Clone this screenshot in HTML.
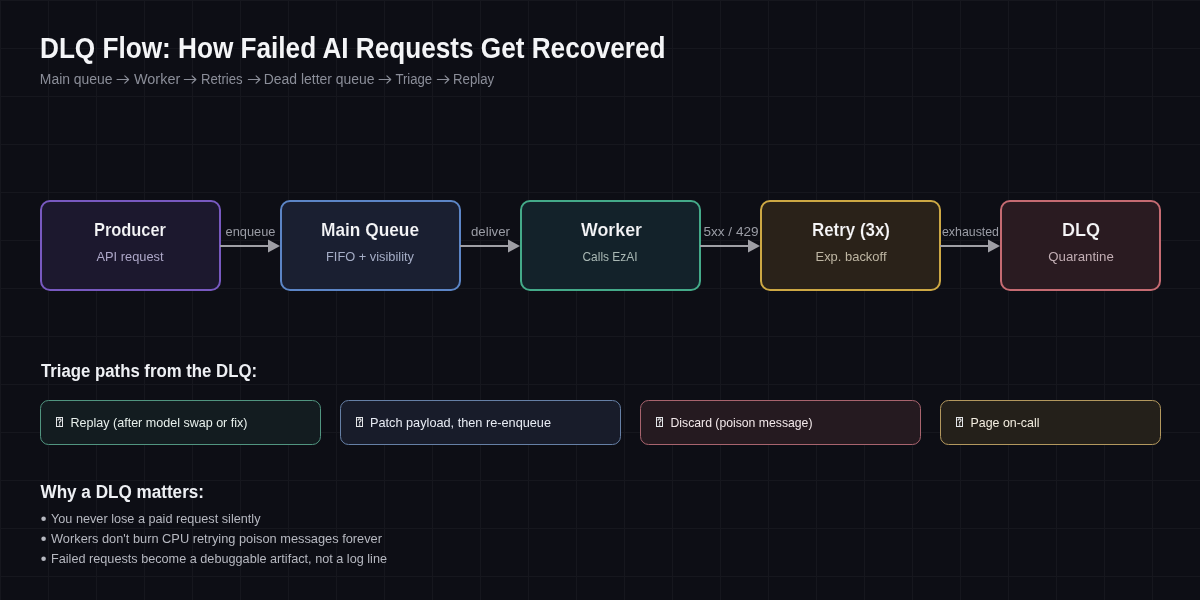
<!DOCTYPE html>
<html><head><meta charset="utf-8">
<style>
html,body{margin:0;padding:0;width:1200px;height:600px;overflow:hidden;background:#0d0e15;}
body{
 background-color:#0d0e15;
 background-image:linear-gradient(to right,#16171e 1px,transparent 1px),linear-gradient(to bottom,#16171e 1px,transparent 1px);
 background-size:48px 48px;
}
svg{position:absolute;left:0;top:0;will-change:transform;}
text{font-family:"Liberation Sans",sans-serif;}
.b{font-weight:bold;}
</style></head>
<body>
<svg width="1200" height="600" viewBox="0 0 1200 600">
 <!-- header -->
 <text class="b" x="40" y="58" font-size="29" fill="#f4f5f7" textLength="625.5" lengthAdjust="spacingAndGlyphs">DLQ Flow: How Failed AI Requests Get Recovered</text>
 <g font-size="14" fill="#8b8e99">
  <text x="39.8" y="84" textLength="72.8" lengthAdjust="spacingAndGlyphs">Main queue</text>
  <text x="134.0" y="84" textLength="46.2" lengthAdjust="spacingAndGlyphs">Worker</text>
  <text x="201.0" y="84" textLength="41.6" lengthAdjust="spacingAndGlyphs">Retries</text>
  <text x="263.8" y="84" textLength="110.8" lengthAdjust="spacingAndGlyphs">Dead letter queue</text>
  <text x="395.4" y="84" textLength="36.8" lengthAdjust="spacingAndGlyphs">Triage</text>
  <text x="453.0" y="84" textLength="41.2" lengthAdjust="spacingAndGlyphs">Replay</text>
 </g>
 <g fill="none" stroke="#8b8e99" stroke-width="1.15" stroke-linecap="round" stroke-linejoin="round">
  <path d="M117.0 79.5H128.6M124.8 75.8L128.6 79.5L124.8 83.2"/>
  <path d="M184.3 79.5H195.9M192.1 75.8L195.9 79.5L192.1 83.2"/>
  <path d="M248.3 79.5H259.9M256.1 75.8L259.9 79.5L256.1 83.2"/>
  <path d="M379.1 79.5H390.7M386.9 75.8L390.7 79.5L386.9 83.2"/>
  <path d="M437.3 79.5H448.9M445.1 75.8L448.9 79.5L445.1 83.2"/>
 </g>

 <!-- flow boxes -->
 <rect x="41" y="201" width="179" height="89" rx="9" fill="#1c182e" stroke="#7859c0" stroke-width="2"/>
 <rect x="281" y="201" width="179" height="89" rx="9" fill="#1a1f31" stroke="#5c85c6" stroke-width="2"/>
 <rect x="521" y="201" width="179" height="89" rx="9" fill="#13222a" stroke="#44aa89" stroke-width="2"/>
 <rect x="761" y="201" width="179" height="89" rx="9" fill="#2a2219" stroke="#cda844" stroke-width="2"/>
 <rect x="1001" y="201" width="159" height="89" rx="9" fill="#2a1b21" stroke="#c56b72" stroke-width="2"/>

 <g class="b" font-size="18" fill="#f5f5f7" text-anchor="middle">
  <text stroke="#1c182e" stroke-width="0.15" x="130" y="236" textLength="72" lengthAdjust="spacingAndGlyphs">Producer</text>
  <text stroke="#1a1f31" stroke-width="0.15" x="370" y="236" textLength="98" lengthAdjust="spacingAndGlyphs">Main Queue</text>
  <text stroke="#13222a" stroke-width="0.15" x="611.5" y="236" textLength="61" lengthAdjust="spacingAndGlyphs">Worker</text>
  <text stroke="#2a2219" stroke-width="0.15" x="851" y="236" textLength="78" lengthAdjust="spacingAndGlyphs">Retry (3x)</text>
  <text stroke="#2a1b21" stroke-width="0.15" x="1081" y="236" textLength="38" lengthAdjust="spacingAndGlyphs">DLQ</text>
 </g>
 <g font-size="13" text-anchor="middle">
  <text fill="#ada7c8" x="130" y="261" textLength="67" lengthAdjust="spacingAndGlyphs">API request</text>
  <text fill="#a5adc6" x="370" y="261" textLength="88" lengthAdjust="spacingAndGlyphs">FIFO + visibility</text>
  <text fill="#a9b8b4" x="610" y="261" textLength="55" lengthAdjust="spacingAndGlyphs">Calls EzAI</text>
  <text fill="#beb6a3" x="851" y="261" textLength="71" lengthAdjust="spacingAndGlyphs">Exp. backoff</text>
  <text fill="#c2aeb4" x="1081" y="261" textLength="65.5" lengthAdjust="spacingAndGlyphs">Quarantine</text>
 </g>

 <!-- arrows -->
 <g stroke="#a0a0a6" stroke-width="2">
  <line x1="220" y1="246" x2="270" y2="246"/>
  <line x1="460" y1="246" x2="510" y2="246"/>
  <line x1="700" y1="246" x2="750" y2="246"/>
  <line x1="940" y1="246" x2="990" y2="246"/>
 </g>
 <g fill="#a0a0a6">
  <polygon points="268,239.5 280,246 268,252.5"/>
  <polygon points="508,239.5 520,246 508,252.5"/>
  <polygon points="748,239.5 760,246 748,252.5"/>
  <polygon points="988,239.5 1000,246 988,252.5"/>
 </g>
 <g font-size="13" fill="#9a9ca5" text-anchor="middle">
  <text x="250.5" y="236" textLength="50" lengthAdjust="spacingAndGlyphs">enqueue</text>
  <text x="490.5" y="236" textLength="39" lengthAdjust="spacingAndGlyphs">deliver</text>
  <text x="731" y="236" textLength="55" lengthAdjust="spacingAndGlyphs">5xx / 429</text>
  <text x="970.5" y="236" textLength="57" lengthAdjust="spacingAndGlyphs">exhausted</text>
 </g>

 <!-- triage -->
 <text class="b" x="41" y="377" font-size="18" fill="#eef0f4" textLength="216" lengthAdjust="spacingAndGlyphs">Triage paths from the DLQ:</text>
 <rect x="40.5" y="400.5" width="280" height="44" rx="8" fill="#131c20" stroke="#519580" stroke-width="1"/>
 <rect x="340.5" y="400.5" width="280" height="44" rx="8" fill="#181c2a" stroke="#6680a6" stroke-width="1"/>
 <rect x="640.5" y="400.5" width="280" height="44" rx="8" fill="#251a20" stroke="#a8646e" stroke-width="1"/>
 <rect x="940.5" y="400.5" width="220" height="44" rx="8" fill="#24201a" stroke="#b3985e" stroke-width="1"/>
 <defs>
  <g id="tofu">
   <rect x="0.5" y="0.5" width="6" height="9" fill="none" stroke="#e5e7ea" stroke-width="1"/>
   <path d="M1.9 3.4Q1.9 1.8 3.5 1.8Q5.1 1.8 5.1 3.3Q5.1 4.4 3.6 5V6.4" fill="none" stroke="#e5e7ea" stroke-width="1.15"/>
   <rect x="2.9" y="7.3" width="1.4" height="1.4" fill="#e5e7ea"/>
  </g>
 </defs>
 <use href="#tofu" x="56" y="417"/>
 <use href="#tofu" x="356" y="417"/>
 <use href="#tofu" x="656" y="417"/>
 <use href="#tofu" x="956" y="417"/>
 <g font-size="13">
  <text fill="#e8f0ec" x="70.5" y="427" textLength="177" lengthAdjust="spacingAndGlyphs">Replay (after model swap or fix)</text>
  <text fill="#e8ecf4" x="370" y="427" textLength="181" lengthAdjust="spacingAndGlyphs">Patch payload, then re-enqueue</text>
  <text fill="#f2e8ea" x="670.5" y="427" textLength="142" lengthAdjust="spacingAndGlyphs">Discard (poison message)</text>
  <text fill="#f3ede0" x="970.5" y="427" textLength="69" lengthAdjust="spacingAndGlyphs">Page on-call</text>
 </g>

 <!-- why -->
 <text class="b" x="40.5" y="498" font-size="18" fill="#eef0f4" textLength="163.5" lengthAdjust="spacingAndGlyphs">Why a DLQ matters:</text>
 <g fill="#b6b8c0">
  <circle cx="43.6" cy="518.7" r="2.3"/>
  <circle cx="43.6" cy="538.7" r="2.3"/>
  <circle cx="43.6" cy="558.7" r="2.3"/>
 </g>
 <g font-size="13" fill="#b6b8c0">
  <text x="51" y="523" textLength="209.5" lengthAdjust="spacingAndGlyphs">You never lose a paid request silently</text>
  <text x="51" y="543" textLength="331" lengthAdjust="spacingAndGlyphs">Workers don't burn CPU retrying poison messages forever</text>
  <text x="51" y="563" textLength="336" lengthAdjust="spacingAndGlyphs">Failed requests become a debuggable artifact, not a log line</text>
 </g>
</svg>
</body></html>
